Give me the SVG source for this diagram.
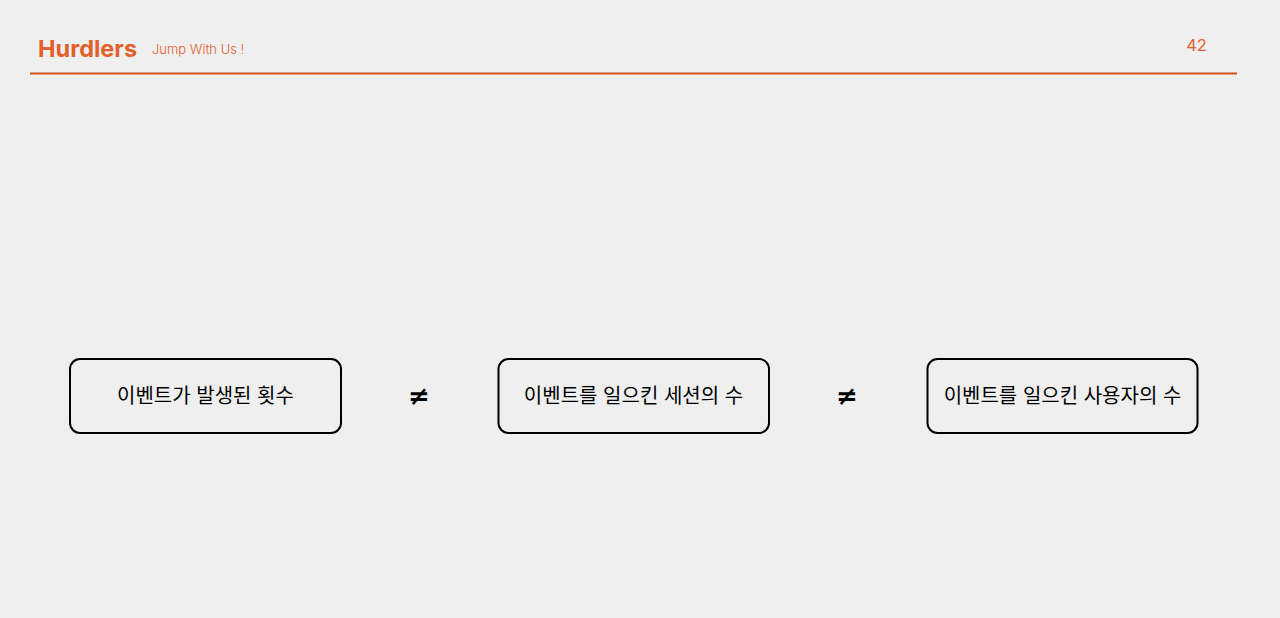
<svg xmlns="http://www.w3.org/2000/svg" width="1280" height="618" viewBox="0 0 1280 618">
<style>
.box{fill:none;stroke:#000;stroke-width:2}
.lbl{font-family:Inter,"Noto Sans CJK KR",sans-serif;font-size:20px;fill:#000;text-anchor:middle}
.ne{font-family:"DejaVu Sans",sans-serif;font-size:26px;font-weight:bold;fill:#000;text-anchor:middle}
.or{fill:#e2602c}
</style>
<rect width="1280" height="618" fill="#efefef"/>
<g id="header">
<text x="38" y="57" class="or" font-family="Inter,sans-serif" font-size="23.5" font-weight="bold">Hurdlers</text>
<text x="152" y="54" class="or" font-family="Inter,sans-serif" font-size="13" font-weight="300">Jump With Us !</text>
<text x="1196.5" y="51" class="or" font-family="Inter,sans-serif" font-size="16.5" text-anchor="middle">42</text>
<line x1="30" y1="73.5" x2="1237" y2="73.5" stroke="#d4501c" stroke-width="2"/>
</g>
<g id="node1">
<rect class="box" x="70" y="359" width="271" height="74" rx="10"/>
<text class="lbl" x="205.5" y="403">이벤트가 발생된 횟수</text>
</g>
<g id="node2">
<rect class="box" x="498.5" y="359" width="270.5" height="74" rx="10"/>
<text class="lbl" x="633.5" y="403">이벤트를 일으킨 세션의 수</text>
</g>
<g id="node3">
<rect class="box" x="927.5" y="359" width="270" height="74" rx="10"/>
<text class="lbl" x="1062.5" y="403">이벤트를 일으킨 사용자의 수</text>
</g>
<g id="connectors">
<text class="ne" x="419" y="405">≠</text>
<text class="ne" x="847" y="405">≠</text>
</g>
</svg>
